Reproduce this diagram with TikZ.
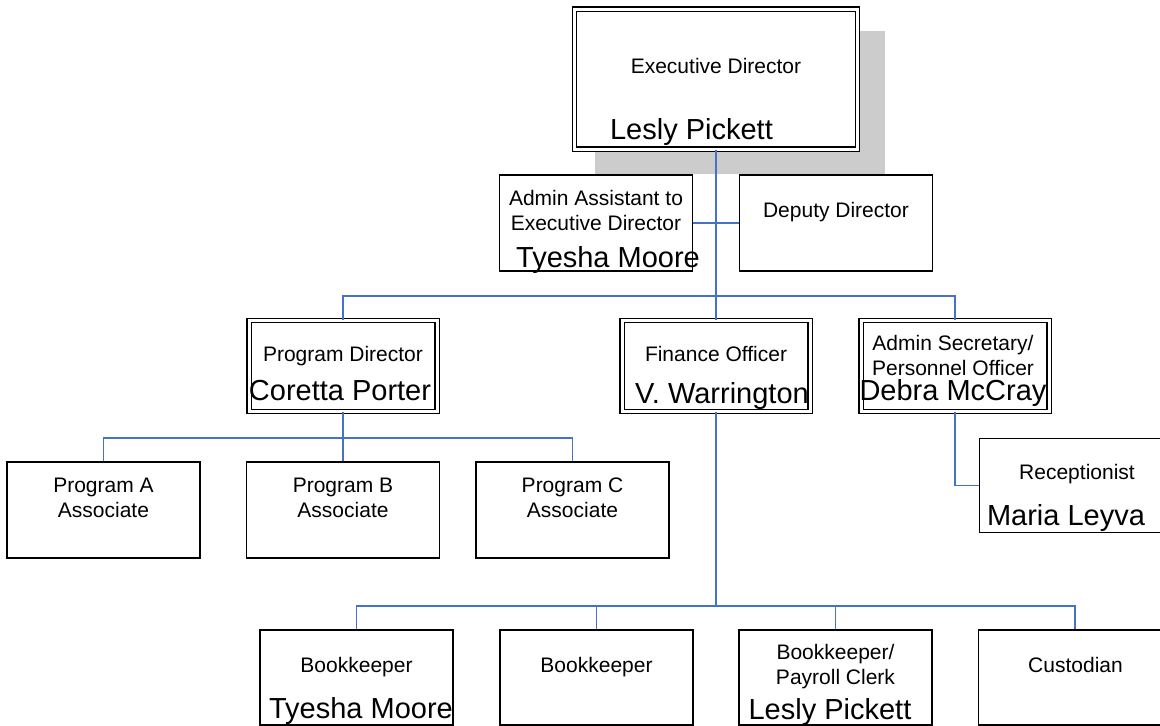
\documentclass[tikz,border=0pt]{standalone}
\usepackage{fontspec}
\setmainfont{Liberation Sans}
\definecolor{linkblue}{RGB}{68,114,196}
\definecolor{shadowgray}{RGB}{204,204,204}

\begin{document}
\begin{tikzpicture}[x=1pt, y=-1pt,
    box/.style={draw, line width=1.6pt, fill=white, inner sep=0pt,
        minimum width=193pt, minimum height=96pt},
    dbox/.style={draw, line width=1.3pt, double, double distance=3pt, fill=white,
        inner sep=0pt, minimum width=188pt, minimum height=91pt},
    conn/.style={linkblue, line width=1.7pt},
    role/.style={font=\fontsize{21}{25}\selectfont, align=center, anchor=base, inner sep=0pt},
    person/.style={font=\fontsize{29}{32}\selectfont, anchor=base, inner sep=0pt}]
    \useasboundingbox (0,0) rectangle (1160,726);
    \clip (0,0) rectangle (1160,726);

    % Executive director with shadow
    \fill[shadowgray] (595,31) rectangle (885,174);
    \node[dbox, minimum width=283pt, minimum height=140pt] (exec) at (716,79) {};
    \node[role] (execT) at (716,73) {Executive Director};
    \node[person] (execN) at (691.5,139) {Lesly Pickett};

    % Staff of the director
    \node[box] (asst) at (596,223) {};
    \node[role] (asstT) at (596,230) {Admin Assistant to\\Executive Director};
    \node[person] (asstN) at (608,267) {Tyesha Moore};
    \node[box] (dep) at (836,223) {};
    \node[role] (depT) at (836,217) {Deputy Director};

    % Officers
    \node[dbox] (pd) at (343,366) {};
    \node[role] (pdT) at (343,361) {Program Director};
    \node[person] (pdN) at (340,400) {Coretta Porter};
    \node[dbox] (fin) at (716,366) {};
    \node[role] (finT) at (716,361) {Finance Officer};
    \node[person] (finN) at (722,403) {V. Warrington};
    \node[dbox] (sec) at (955,366) {};
    \node[role] (secT) at (953,375) {Admin Secretary/\\Personnel Officer};
    \node[person] (secN) at (953,400) {Debra McCray};

    \node[box, minimum height=94pt] (rcp) at (1076,485.5) {};
    \node[role] (rcpT) at (1077,479) {Receptionist};
    \node[person] (rcpN) at (1066,525) {Maria Leyva};

    % Program associates
    \node[box] (prgA) at (103.5,510) {};
    \node[role] (prgAT) at (103.5,517) {Program A\\Associate};
    \node[box] (prgB) at (343,510) {};
    \node[role] (prgBT) at (343,517) {Program B\\Associate};
    \node[box] (prgC) at (572.5,510) {};
    \node[role] (prgCT) at (572.5,517) {Program C\\Associate};

    % Finance staff
    \node[box, minimum height=95pt] (bk1) at (356.5,677.5) {};
    \node[role] (bk1T) at (356.5,672) {Bookkeeper};
    \node[person] (bk1N) at (361,718) {Tyesha Moore};
    \node[box, minimum height=95pt] (bk2) at (596.5,677.5) {};
    \node[role] (bk2T) at (596.5,672) {Bookkeeper};
    \node[box, minimum height=95pt] (bkp) at (835.5,677.5) {};
    \node[role] (bkpT) at (835.5,684) {Bookkeeper/\\Payroll Clerk};
    \node[person] (bkpN) at (830,719) {Lesly Pickett};
    \node[box, minimum height=95pt] (cus) at (1075,677.5) {};
    \node[role] (cusT) at (1075.5,672) {Custodian};

    % Connectors
    \coordinate (topbus) at (716,296);
    \coordinate (prgbus) at (343,438);
    \coordinate (finbus) at (716,606);
    \draw[conn] (exec) -- (fin);
    \draw[conn] (asst) -- (dep);
    \draw[conn] (pd.north) |- (topbus) -| (sec.north);
    \draw[conn] (pd) -- (prgB);
    \draw[conn] (prgA.north) |- (prgbus) -| (prgC.north);
    \draw[conn] (fin.south) -- (finbus);
    \draw[conn] (bk1.north) |- (finbus) -| (cus.north);
    \draw[conn] (bk2.north) -- (bk2.north |- finbus);
    \draw[conn] (bkp.north) -- (bkp.north |- finbus);
    \draw[conn] (sec.south) |- (rcp.west);
\end{tikzpicture}
\end{document}
